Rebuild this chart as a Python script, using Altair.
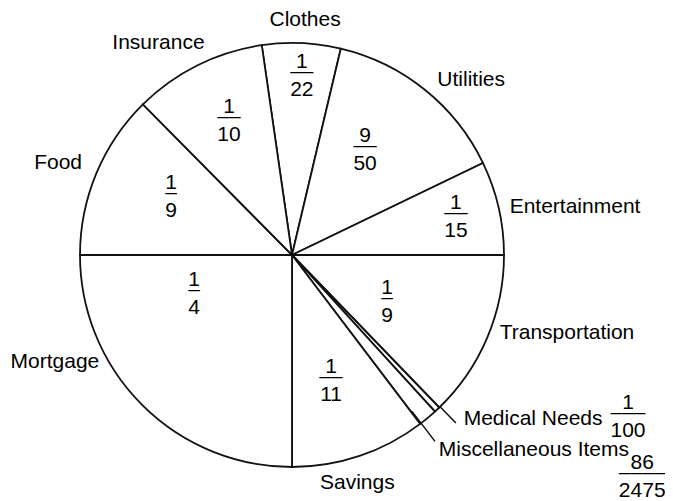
import math
import altair as alt
import pandas as pd

# ---- data ----
categories = ["Clothes", "Utilities", "Entertainment", "Transportation", "Medical Needs",
              "Miscellaneous Items", "Savings", "Mortgage", "Food", "Insurance"]
numerators = ["1", "9", "1", "1", "1", "86", "1", "1", "1", "1"]
denominators = ["22", "50", "15", "9", "100", "2475", "11", "4", "9", "10"]
# slice sizes as drawn in the picture (degrees of the circle)
drawn_degrees = [21.5, 51.0, 25.7, 46.0, 1.6, 5.2, 37.2, 90.0, 45.3, 36.5]

# ---- layout (label placement, polar: degrees clockwise from 12 o'clock, radius as share of pie radius) ----
start_deg = -8.2
name_angle = [3.2, 45.6, 80.4, 105.8, 124.2, 128.9, 164.0, 245.7, 291.5, 327.8]
name_r = [1.108, 1.183, 1.354, 1.348, 1.375, 1.466, 1.118, 1.227, 1.186, 1.182]
frac_angle = [3.1, 34.1, 76.0, 114.8, 115.3, 122.0, 162.4, 249.8, 296.8, 335.3]
frac_r = [0.86, 0.615, 0.797, 0.494, 1.753, 1.948, 0.609, 0.492, 0.639, 0.711]
leader_angle = [135.7, 142.5]
leader_r0 = [1.0, 0.93]
leader_r1 = [1.107, 1.108]

R = 212
FONT = "Liberation Sans"
FS = 21

pie_df = pd.DataFrame({"category": categories, "deg": drawn_degrees,
                       "idx": list(range(len(categories)))})
name_df = pd.DataFrame({"label": categories, "ang": name_angle, "r": name_r})
frac_df = pd.DataFrame({"num": numerators, "den": denominators,
                        "bar": ["\u2013" * len(d) for d in denominators],
                        "ang": frac_angle, "r": frac_r})
lead_df = pd.DataFrame({"ang": leader_angle, "r0": leader_r0, "r1": leader_r1})

s0 = math.radians(start_deg)
pie = alt.Chart(pie_df).mark_arc(radius=R, fill="white", stroke="#111", strokeWidth=1.8).encode(
    theta=alt.Theta("deg:Q", stack=True,
                    scale=alt.Scale(domain=[0, 360], range=[s0, s0 + 2 * math.pi])),
    order=alt.Order("idx:Q", sort="ascending"),
    detail="category:N",
)

theta_s = alt.Scale(domain=[0, 360], range=[0, 2 * math.pi])
r_s = alt.Scale(type="linear", domain=[0, 1], range=[0, R], zero=True)

leaders = alt.Chart(lead_df).mark_arc(filled=False, stroke="#111", strokeWidth=1.5).encode(
    theta=alt.Theta("ang:Q", stack=False, scale=theta_s),
    theta2=alt.Theta2("ang:Q"),
    radius=alt.Radius("r1:Q", scale=r_s),
    radius2=alt.Radius2("r0:Q"),
)

names = alt.Chart(name_df).mark_text(font=FONT, fontSize=FS, align="center",
                                     baseline="middle", color="#000").encode(
    theta=alt.Theta("ang:Q", stack=False, scale=theta_s),
    radius=alt.Radius("r:Q", scale=r_s),
    text="label:N",
)

def frac_layer(field, dy):
    return alt.Chart(frac_df).mark_text(font=FONT, fontSize=FS, align="center",
                                        baseline="alphabetic", color="#000", dy=dy).encode(
        theta=alt.Theta("ang:Q", stack=False, scale=theta_s),
        radius=alt.Radius("r:Q", scale=r_s),
        text=f"{field}:N",
    )

nums = frac_layer("num", -5)
bars = frac_layer("bar", 5)
dens = frac_layer("den", 23)

chart = alt.layer(pie, leaders, names, nums, bars, dens).resolve_scale(
    theta="independent", radius="independent"
).properties(
    width=568, height=494,
    autosize=alt.AutoSizeParams(type="none"),
    padding={"left": 0, "top": 0, "right": 89, "bottom": 0},
).configure_view(strokeWidth=0)

chart.save("out.html", embed_options={"renderer": "svg", "actions": False})
